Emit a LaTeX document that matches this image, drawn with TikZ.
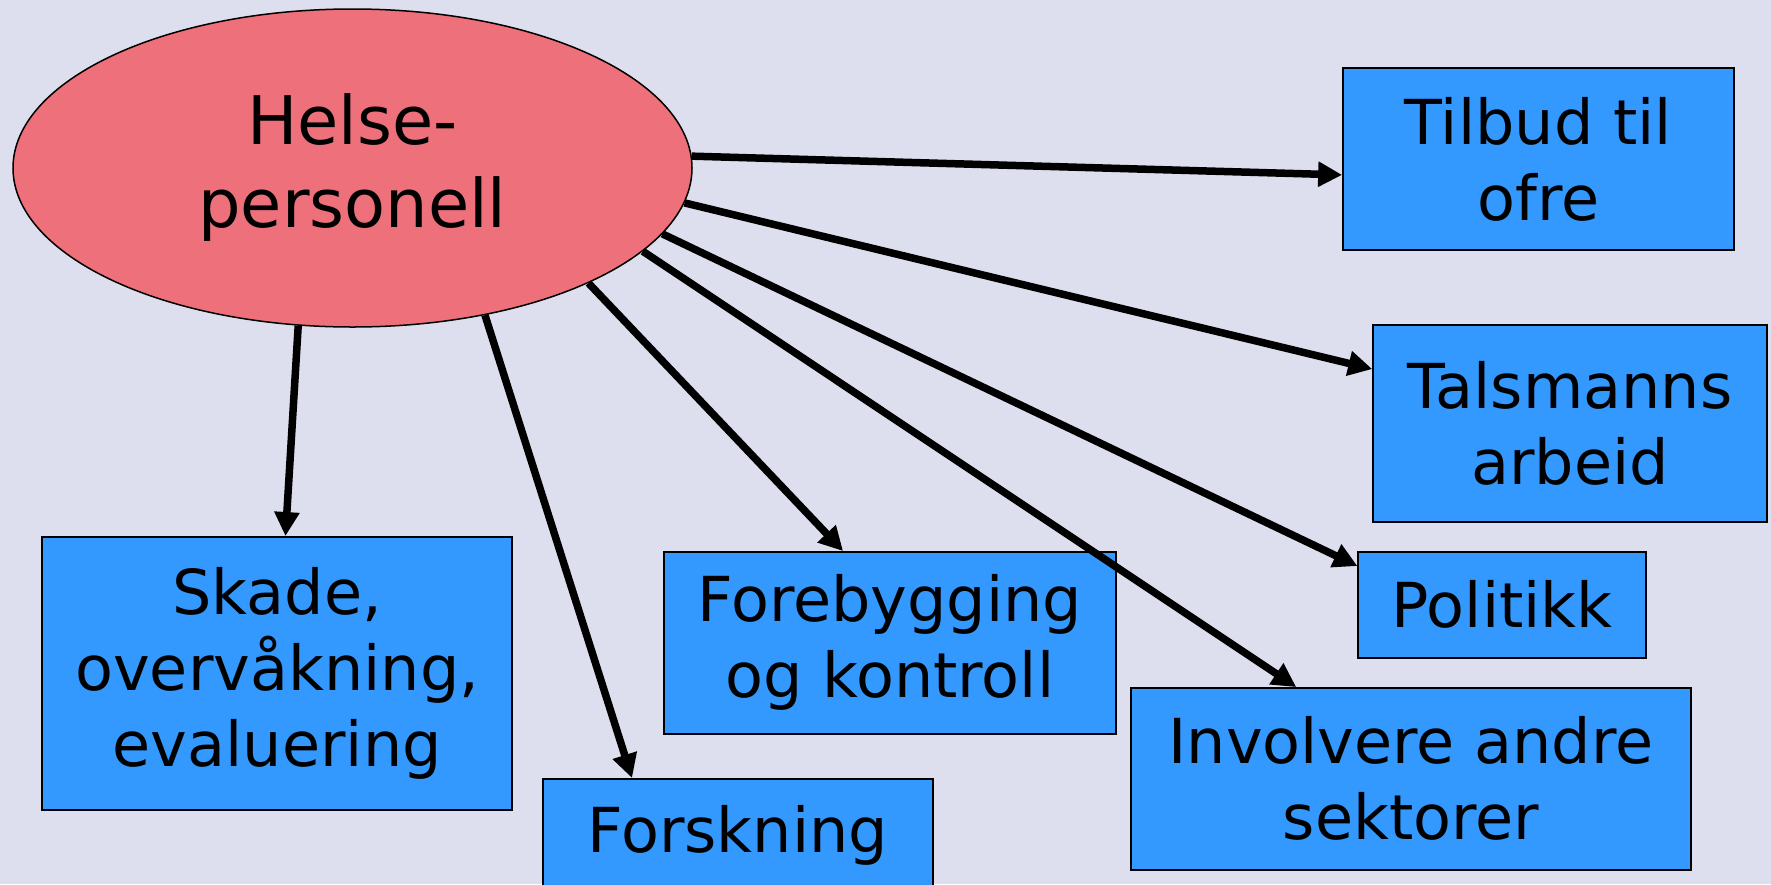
\documentclass[tikz,border=0pt]{standalone}
\usepackage{fontspec}
\setmainfont{DejaVu Sans}
\usetikzlibrary{arrows.meta,calc,shapes.geometric}
\definecolor{bgcol}{RGB}{221,223,238}
\definecolor{hubfill}{RGB}{238,112,122}
\definecolor{boxfill}{RGB}{51,153,255}

\begin{document}
\begin{tikzpicture}[x=1pt,y=-1pt,
  hub/.style={ellipse, draw=black, line width=1.5pt, fill=hubfill,
    minimum width=679pt, minimum height=318pt, inner sep=0pt, align=center,
    font=\fontsize{67}{83}\selectfont},
  task/.style={rectangle, draw=black, line width=1.5pt, fill=boxfill,
    inner sep=0pt, align=center, font=\fontsize{62}{76}\selectfont},
  link/.style={line width=7.5pt, -{Triangle[length=24pt,width=24pt]}}]
% canvas
\fill[bgcol] (0,0) rectangle (1771,884);
\useasboundingbox (0,0) rectangle (1771,884);
\clip (0,0) rectangle (1771,884);

% central actor
\node[hub] (hp) at (352.5,168) {Helse-\\personell};

% areas of work
\node[task, minimum width=391pt, minimum height=182pt] (tilbud) at (1538.4,158.9) {Tilbud til\\ofre};
\node[task, minimum width=394pt, minimum height=197pt] (tals) at (1570,423.3) {Talsmanns\\arbeid};
\node[task, minimum width=288pt, minimum height=106pt] (pol) at (1502.2,604.8) {Politikk};
\node[task, minimum width=560pt, minimum height=182pt] (inv) at (1411,778.8) {Involvere andre\\sektorer};
\node[task, minimum width=452pt, minimum height=182pt] (fore) at (889.8,642.8) {Forebygging\\og kontroll};
\node[task, minimum width=470pt, minimum height=273pt] (skade) at (277.2,673.3) {Skade,\\overvåkning,\\evaluering};
\node[task, anchor=north west, minimum width=390pt, inner ysep=22pt,
      text height=52pt, text depth=100pt] (forsk) at (542,778) {Forskning};

% connectors
\draw[link] (hp.2) -- ($(tilbud.west)+(0,16)$);
\draw[link] (hp.-6) -- ($(tals.north west)+(0,45)$);
\draw[link] (hp.-12) -- ($(pol.north west)+(0,15)$);
\draw[link] (hp.-16) -- ($(inv.north west)+(166,0)$);
\draw[link] (hp.-26) -- ($(fore.north west)+(180,0)$);
\draw[link] (hp.-48) -- ($(forsk.north west)+(90,0)$);
\draw[link] (hp.-109) -- ($(skade.north west)+(244,0)$);
\end{tikzpicture}
\end{document}
